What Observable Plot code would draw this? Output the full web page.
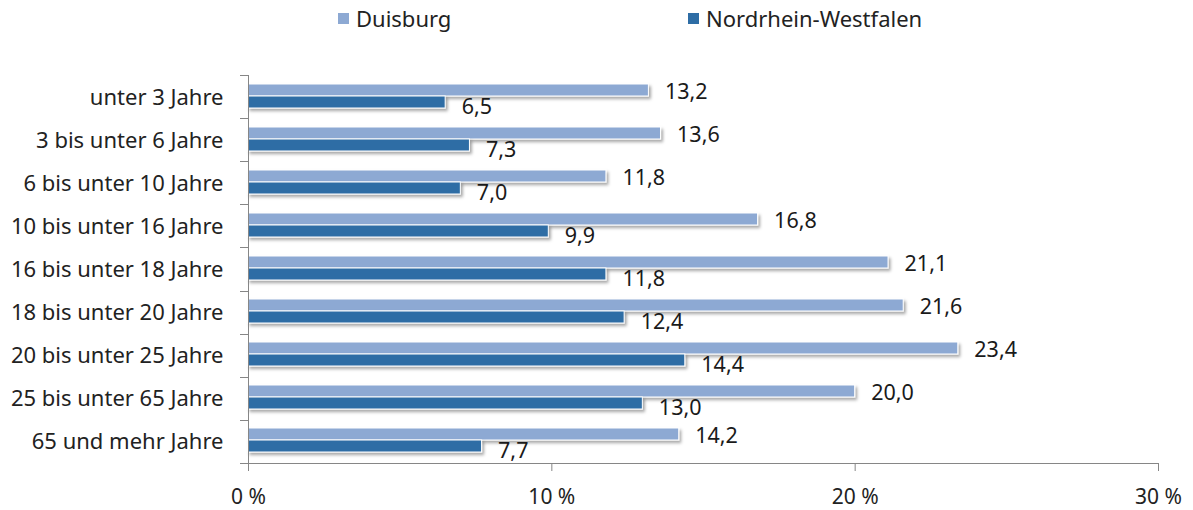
<!DOCTYPE html>
<html><head><meta charset="utf-8">
<script src="https://cdn.jsdelivr.net/npm/d3@7"></script>
<script src="https://cdn.jsdelivr.net/npm/@observablehq/plot@0.6"></script>
<style>
body{margin:0;background:#fff;font-family:"Noto Sans",sans-serif;}
#legend{position:relative;height:38px;width:1193px;font-size:22px;color:#222;}
.item{position:absolute;top:4px;display:flex;align-items:center;white-space:nowrap;line-height:28px}
.sw{width:11px;height:11px;margin-right:7px;display:inline-block}
</style></head><body>
<div id="legend"></div>
<div id="chart"></div>
<script>
const categories = ["unter 3 Jahre","3 bis unter 6 Jahre","6 bis unter 10 Jahre","10 bis unter 16 Jahre","16 bis unter 18 Jahre","18 bis unter 20 Jahre","20 bis unter 25 Jahre","25 bis unter 65 Jahre","65 und mehr Jahre"];
const duisburg = [13.2, 13.6, 11.8, 16.8, 21.1, 21.6, 23.4, 20.0, 14.2];
const nrw = [6.5, 7.3, 7.0, 9.9, 11.8, 12.4, 14.4, 13.0, 7.7];
const seriesNames = ["Duisburg","Nordrhein-Westfalen"];
const seriesColors = ["#8DA9D3","#2E6DA5"];
const xTicks = [0,10,20,30];

// legend
const legendLefts = [338, 688];
const leg = d3.select("#legend");
seriesNames.forEach((n,i)=>{
  const it = leg.append("div").attr("class","item").style("left", legendLefts[i]+"px");
  it.append("span").attr("class","sw").style("background", seriesColors[i]);
  it.append("span").text(n);
});

const rows = categories.map((c,i)=>({category:c, duisburg:duisburg[i], nrw:nrw[i]}));
const fmt = v => d3.format(".1f")(v).replace(".", ",");
const axisColor = "#868686";

const plot = Plot.plot({
  width:1193, height:472, marginLeft:248, marginRight:35, marginTop:37, marginBottom:47,
  style:{fontFamily:'"Noto Sans", sans-serif', fontSize:"21px", color:"#222", background:"#fff"},
  x:{domain:[0,30]},
  y:{domain:categories, padding:0},
  marks:[
    Plot.barX(rows,{x:"duisburg", y:"category", fill:seriesColors[0], stroke:"#fff", strokeWidth:1, insetTop:8, insetBottom:23}),
    Plot.barX(rows,{x:"nrw", y:"category", fill:seriesColors[1], stroke:"#fff", strokeWidth:1, insetTop:20, insetBottom:11}),
    Plot.text(rows,{x:"duisburg", y:"category", text:d=>fmt(d.duisburg), textAnchor:"start", dx:16, dy:-6, fill:"#1a1a1a", fontSize:21.5}),
    Plot.text(rows,{x:"nrw", y:"category", text:d=>fmt(d.nrw), textAnchor:"start", dx:16, dy:9, fill:"#1a1a1a", fontSize:21.5}),
    Plot.axisX({ticks:xTicks, tickFormat:d=>d+" %", tickSize:8, tickPadding:18, stroke:axisColor, fill:"#222", label:null, fontSize:21}),
    Plot.axisY({tickSize:0, tickPadding:25, label:null, fill:"#222", fontSize:22}),
    Plot.ruleX([0],{stroke:axisColor})
  ]
});

// post-process: axis line, category boundary ticks, shadows
const svg = d3.select(plot);
const ys = plot.scale("y"), xs = plot.scale("x");
const [r0, r1] = ys.range;
const step = (r1 - r0) / categories.length;
const x0 = xs.apply(0), x1 = xs.apply(30);
const g = svg.append("g").attr("stroke", axisColor).attr("stroke-width", 1);
g.append("line").attr("x1", x0 - 8).attr("x2", x1).attr("y1", r1 + 0.5).attr("y2", r1 + 0.5);
d3.range(categories.length).forEach(i=>{
  const y = Math.round(r0 + i*step) + 0.5;
  g.append("line").attr("x1", x0 - 8).attr("x2", x0).attr("y1", y).attr("y2", y);
});
const defs = svg.insert("defs", ":first-child");
const f = defs.append("filter").attr("id","sh").attr("x","-5%").attr("y","-5%").attr("width","112%").attr("height","112%");
f.append("feDropShadow").attr("dx",2).attr("dy",2.5).attr("stdDeviation",1.5).attr("flood-color","#000").attr("flood-opacity",0.35);
svg.selectAll('g[aria-label="bar"]').attr("filter","url(#sh)");

document.getElementById("chart").appendChild(plot);
</script>
</body></html>
